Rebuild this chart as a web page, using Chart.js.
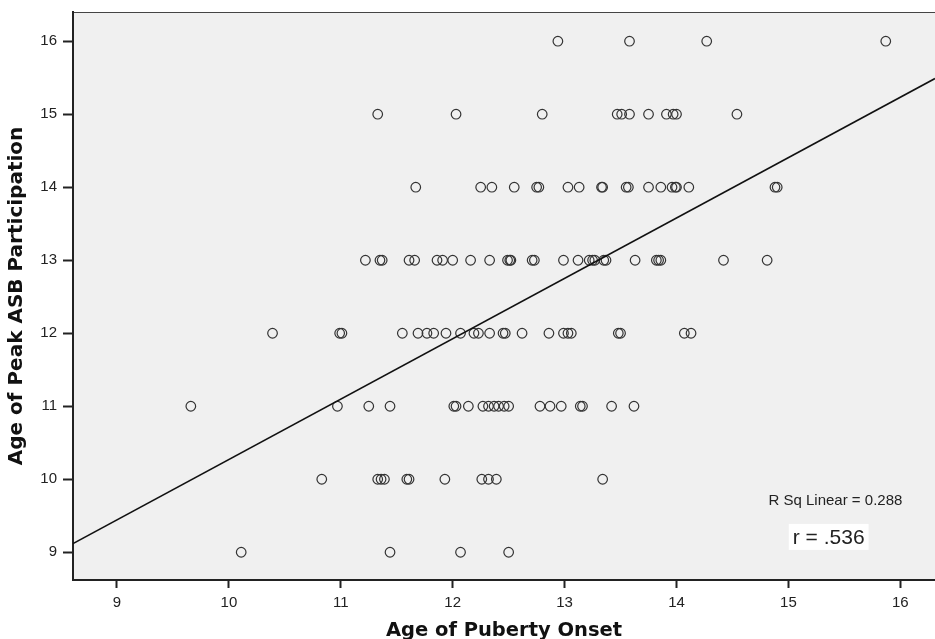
<!DOCTYPE html>
<html>
<head>
<meta charset="utf-8">
<script src="https://cdn.jsdelivr.net/npm/chart.js@4.4.1/dist/chart.umd.min.js"></script>
<style>
  html, body { margin: 0; padding: 0; background: #fff; }
  canvas { display: block; }
</style>
</head>
<body>
<canvas id="chart" width="935" height="639"></canvas>
<script>
// Age of puberty onset for each person, grouped by their age of peak ASB participation
const peakAges = [16, 15, 14, 13, 12, 11, 10, 9];
const onsetPeak16 = [12.94, 13.58, 14.27, 15.87];
const onsetPeak15 = [11.33, 12.03, 12.80, 13.47, 13.51, 13.58, 13.75, 13.91, 13.97, 14.0, 14.54];
const onsetPeak14 = [11.67, 12.25, 12.35, 12.55, 12.75, 12.77, 13.03, 13.13, 13.33, 13.34, 13.55, 13.57,
  13.75, 13.86, 13.96, 13.99, 14.0, 14.11, 14.88, 14.9];
const onsetPeak13 = [11.22, 11.35, 11.37, 11.61, 11.66, 11.86, 11.91, 12.0, 12.16, 12.33, 12.49, 12.51,
  12.52, 12.71, 12.73, 12.99, 13.12, 13.22, 13.25, 13.27, 13.35, 13.37, 13.63, 13.82, 13.84, 13.86, 14.42, 14.81];
const onsetPeak12 = [10.39, 10.99, 11.01, 11.55, 11.69, 11.77, 11.83, 11.94, 12.07, 12.19, 12.23, 12.33,
  12.45, 12.47, 12.62, 12.86, 12.99, 13.03, 13.06, 13.48, 13.5, 14.07, 14.13];
const onsetPeak11 = [9.66, 10.97, 11.25, 11.44, 12.01, 12.03, 12.14, 12.27, 12.32, 12.37, 12.41, 12.46,
  12.5, 12.78, 12.87, 12.97, 13.14, 13.16, 13.42, 13.62];
const onsetPeak10 = [10.83, 11.33, 11.36, 11.39, 11.59, 11.61, 11.93, 12.26, 12.32, 12.39, 13.34];
const onsetPeak9 = [10.11, 11.44, 12.07, 12.5];

// linear fit shown on the chart
const fitIntercept = 2.0;
const fitSlope = 0.827;
const rSqLabel = 'R Sq Linear = 0.288';
const rLabel = 'r = .536';

const xTicks = [9, 10, 11, 12, 13, 14, 15, 16];
const yTicks = [9, 10, 11, 12, 13, 14, 15, 16];
const xMin = 8.607, xMax = 16.31;
const yMin = 8.62, yMax = 16.4;

const rows = [onsetPeak16, onsetPeak15, onsetPeak14, onsetPeak13, onsetPeak12, onsetPeak11, onsetPeak10, onsetPeak9];
const points = [];
rows.forEach((row, i) => {
  row.forEach(x => points.push({ x, y: peakAges[i] }));
});

const fitLine = [
  { x: xMin, y: fitIntercept + fitSlope * xMin },
  { x: xMax, y: fitIntercept + fitSlope * xMax },
];

const spssLook = {
  id: 'spssLook',
  beforeDraw(chart) {
    const { ctx, chartArea: a } = chart;
    ctx.save();
    ctx.fillStyle = '#f0f0f0';
    ctx.fillRect(a.left, a.top, a.right - a.left, a.bottom - a.top);
    ctx.strokeStyle = '#444';
    ctx.lineWidth = 1;
    ctx.beginPath();
    ctx.moveTo(a.left, a.top + 0.5);
    ctx.lineTo(a.right, a.top + 0.5);
    ctx.stroke();
    ctx.restore();
  },
  afterDraw(chart) {
    const { ctx, scales: { x, y } } = chart;
    ctx.save();
    ctx.textAlign = 'center';
    ctx.textBaseline = 'middle';
    ctx.fillStyle = '#222';
    ctx.font = '15px "Liberation Sans", Arial, sans-serif';
    ctx.fillText(rSqLabel, x.getPixelForValue(15.42), y.getPixelForValue(9.7));

    const cx = x.getPixelForValue(15.36);
    const cy = y.getPixelForValue(9.21);
    ctx.font = '21px "Liberation Sans", Arial, sans-serif';
    const w = ctx.measureText(rLabel).width + 8;
    ctx.fillStyle = '#fff';
    ctx.fillRect(cx - w / 2, cy - 13, w, 26);
    ctx.fillStyle = '#222';
    ctx.fillText(rLabel, cx, cy + 1);
    ctx.restore();
  }
};

new Chart(document.getElementById('chart'), {
  type: 'scatter',
  data: {
    datasets: [
      {
        label: 'Fit',
        type: 'line',
        data: fitLine,
        borderColor: '#111',
        borderWidth: 1.6,
        pointRadius: 0,
        fill: false,
        order: 1,
      },
      {
        label: 'Participants',
        data: points,
        pointStyle: 'circle',
        pointRadius: 4.8,
        pointBorderWidth: 1.2,
        borderColor: '#333',
        backgroundColor: 'rgba(0,0,0,0)',
        order: 2,
      },
    ],
  },
  options: {
    responsive: false,
    animation: false,
    layout: { autoPadding: false, padding: { top: 12, right: 0, bottom: 0, left: 0 } },
    plugins: {
      legend: { display: false },
      tooltip: { enabled: false },
    },
    scales: {
      x: {
        type: 'linear',
        min: xMin,
        max: xMax,
        afterBuildTicks: (s) => { s.ticks = xTicks.map(v => ({ value: v })); },
        afterFit: (s) => { s.height = 59; s.paddingLeft = 0; s.paddingRight = 0; },
        grid: { drawOnChartArea: false, drawTicks: true, tickLength: 8, tickColor: '#222', tickWidth: 2 },
        border: { display: true, color: '#222', width: 2 },
        ticks: {
          padding: 6,
          color: '#222',
          maxRotation: 0,
          font: { family: '"Liberation Sans", Arial, sans-serif', size: 15 },
        },
        title: {
          display: true,
          text: 'Age of Puberty Onset',
          color: '#111',
          padding: { top: 0, bottom: 0 },
          font: { family: '"DejaVu Sans", sans-serif', size: 19.5, weight: 'bold', lineHeight: 0.8 },
        },
      },
      y: {
        type: 'linear',
        min: yMin,
        max: yMax,
        afterBuildTicks: (s) => { s.ticks = yTicks.map(v => ({ value: v })); },
        afterFit: (s) => { s.width = 73; s.paddingTop = 0; s.paddingBottom = 0; },
        grid: { drawOnChartArea: false, drawTicks: true, tickLength: 10, tickColor: '#222', tickWidth: 2 },
        border: { display: true, color: '#222', width: 2 },
        ticks: {
          padding: 6,
          color: '#222',
          font: { family: '"Liberation Sans", Arial, sans-serif', size: 15 },
        },
        title: {
          display: true,
          text: 'Age of Peak ASB Participation',
          color: '#111',
          padding: { top: 5, bottom: 0 },
          font: { family: '"DejaVu Sans", sans-serif', size: 20, weight: 'bold' },
        },
      },
    },
  },
  plugins: [spssLook],
});
</script>
</body>
</html>
